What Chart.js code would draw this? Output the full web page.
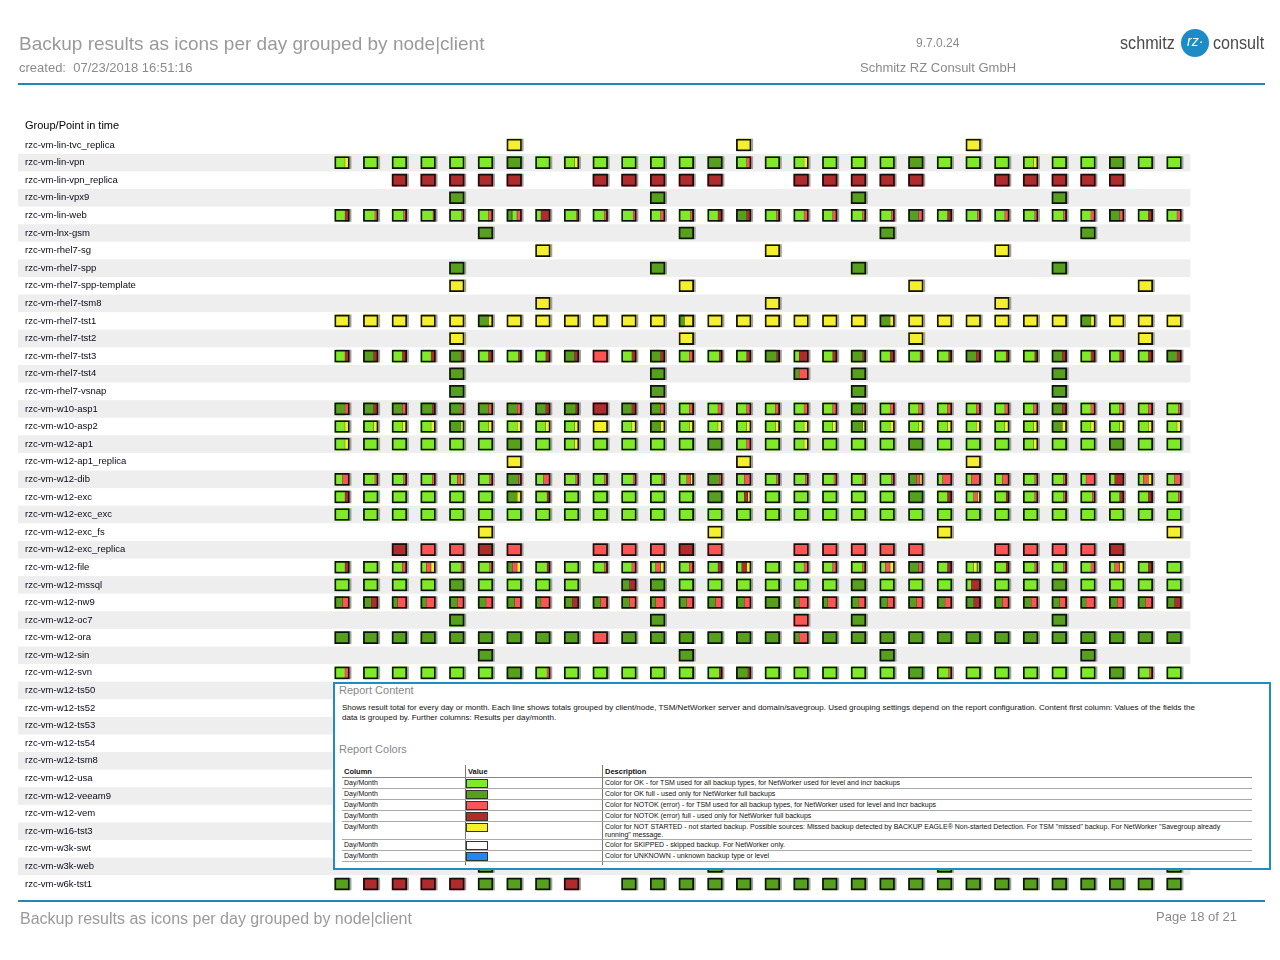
<!DOCTYPE html>
<html>
<head>
<meta charset="utf-8">
<script src="https://cdn.jsdelivr.net/npm/chart.js@4.4.1/dist/chart.umd.min.js"></script>
<style>
body { margin: 0; background: #fff; font-family: "Liberation Sans", Arial, sans-serif; }
#page { position: relative; width: 1280px; height: 960px; overflow: hidden; }
#chart { position: absolute; left: 0; top: 0; }
.t { position: absolute; white-space: nowrap; }
.rule { position: absolute; left: 18px; width: 1247px; height: 2px; background: #1f88b9; }
#box { position: absolute; left: 333px; top: 682px; width: 934px; height: 184px; border: 2px solid #1f8dc3; background: #fff; }
#box .t { font-size: 7px; color: #111; }
.vline { position: absolute; top: 81px; height: 100px; width: 1px; background: #777; }
.hline { position: absolute; left: 7px; width: 910px; height: 1px; background: #aaa; }
.sw { position: absolute; left: 131px; width: 20px; height: 7px; border: 1px solid #333; }
</style>
</head>
<body>
<div id="page">
  <canvas id="chart" width="1280" height="960"></canvas>

  <div class="t" style="left:19px;top:33px;font-size:19px;color:#9a9a9a">Backup results as icons per day grouped by node|client</div>
  <div class="t" style="left:19px;top:60px;font-size:13px;color:#8a8a8a">created:&nbsp; 07/23/2018 16:51:16</div>
  <div class="t" style="left:916px;top:36px;font-size:12px;color:#8a8a8a">9.7.0.24</div>
  <div class="t" style="left:860px;top:60px;font-size:13px;color:#8a8a8a">Schmitz RZ Consult GmbH</div>
  <div class="t" style="left:1120px;top:32px;font-size:19px;color:#4a4a4a;transform:scaleX(0.85);transform-origin:left">schmitz</div>
  <div style="position:absolute;left:1181px;top:29px;width:28px;height:28px;border-radius:50%;background:#1e8cc4"></div>
  <div class="t" style="left:1187px;top:33px;font-size:14px;font-style:italic;color:#fff">rz·</div>
  <div class="t" style="left:1213px;top:32px;font-size:19px;color:#4a4a4a;transform:scaleX(0.85);transform-origin:left">consult</div>
  <div class="rule" style="top:83px"></div>

  <div class="t" style="left:25px;top:119px;font-size:11px;color:#000">Group/Point in time</div>

  <div id="box">
    <div class="t" style="left:4px;top:0px"><span style="font-size:11px;color:#888">Report Content</span></div>
    <div class="t" style="left:7px;top:19px;line-height:10px;font-size:8px">Shows result total for every day or month. Each line shows totals grouped by client/node, TSM/NetWorker server and domain/savegroup. Used grouping settings depend on the report configuration. Content first column: Values of the fields the<br>data is grouped by. Further columns: Results per day/month.</div>
    <div class="t" style="left:4px;top:59px"><span style="font-size:11px;color:#888">Report Colors</span></div>
    <div class="t" style="left:9px;top:83px;font-weight:bold;font-size:7.5px">Column</div>
    <div class="t" style="left:133px;top:83px;font-weight:bold;font-size:7.5px">Value</div>
    <div class="t" style="left:270px;top:83px;font-weight:bold;font-size:7.5px">Description</div>
    <div class="vline" style="left:130px"></div>
    <div class="vline" style="left:267px"></div>
    <div class="hline" style="top:93px;background:#888"></div>
    <div id="legendRows"></div>
  </div>

  <div class="rule" style="top:900px"></div>
  <div class="t" style="left:20px;top:910px;font-size:16px;color:#9a9a9a">Backup results as icons per day grouped by node|client</div>
  <div class="t" style="right:43px;top:909px;font-size:13px;color:#8a8a8a">Page 18 of 21</div>
</div>

<script>
const days = ['23.', '24.', '25.', '26.', '27.', '28.', '29.', '30.', '01.', '02.', '03.', '04.', '05.', '06.', '07.',
    '08.', '09.', '10.', '11.', '12.', '13.', '14.', '15.', '16.', '17.', '18.', '19.', '20.', '21.', '22.'];

const nodes = [
    'rzc-vm-lin-tvc_replica', 'rzc-vm-lin-vpn', 'rzc-vm-lin-vpn_replica', 'rzc-vm-lin-vpx9', 'rzc-vm-lin-web',
    'rzc-vm-lnx-gsm', 'rzc-vm-rhel7-sg', 'rzc-vm-rhel7-spp', 'rzc-vm-rhel7-spp-template', 'rzc-vm-rhel7-tsm8',
    'rzc-vm-rhel7-tst1', 'rzc-vm-rhel7-tst2', 'rzc-vm-rhel7-tst3', 'rzc-vm-rhel7-tst4', 'rzc-vm-rhel7-vsnap',
    'rzc-vm-w10-asp1', 'rzc-vm-w10-asp2', 'rzc-vm-w12-ap1', 'rzc-vm-w12-ap1_replica', 'rzc-vm-w12-dib',
    'rzc-vm-w12-exc', 'rzc-vm-w12-exc_exc', 'rzc-vm-w12-exc_fs', 'rzc-vm-w12-exc_replica', 'rzc-vm-w12-file',
    'rzc-vm-w12-mssql', 'rzc-vm-w12-nw9', 'rzc-vm-w12-oc7', 'rzc-vm-w12-ora', 'rzc-vm-w12-sin',
    'rzc-vm-w12-svn', 'rzc-vm-w12-ts50', 'rzc-vm-w12-ts52', 'rzc-vm-w12-ts53', 'rzc-vm-w12-ts54',
    'rzc-vm-w12-tsm8', 'rzc-vm-w12-usa', 'rzc-vm-w12-veeam9', 'rzc-vm-w12-vem', 'rzc-vm-w16-tst3',
    'rzc-vm-w3k-swt', 'rzc-vm-w3k-web', 'rzc-vm-w6k-tst1'
];

// one line per node, one token per day; letters split the icon in equal parts
// G = OK, D = OK full, R = NOTOK, M = NOTOK full, Y = not started, . = no backup
const results = [
    '. . . . . . Y . . . . . . . Y . . . . . . . Y . . . . . . .',
    'GGY G G G G G D G GGY G G G G D GGR G GGY G G G D G G G GGY G G D G G',
    '. . M M M M M . . M M M M M . . M M M M M . . M M M M M . .',
    '. . . . D . . . . . . D . . . . . . D . . . . . . D . . . .',
    'GGM GGGR GGGR GGGGM GGGGR GGR DGR GMM GGGGR GGGR GGGR GGR GGGR GGM DDM GGGR GGR GGR GGGR GGGR DDR GGM GGGR GGR GGGR GGGR GGR DDR GGM GGR',
    '. . . . . D . . . . . . D . . . . . . D . . . . . . D . . .',
    '. . . . . . . Y . . . . . . . Y . . . . . . . Y . . . . . .',
    '. . . . D . . . . . . D . . . . . . D . . . . . . D . . . .',
    '. . . . Y . . . . . . . Y . . . . . . . Y . . . . . . . Y .',
    '. . . . . . . Y . . . . . . . Y . . . . . . . Y . . . . . .',
    'Y Y Y Y Y DDY Y Y Y Y Y Y DYY Y Y Y Y Y Y DDY Y Y Y Y Y Y DDY Y Y Y',
    '. . . . Y . . . . . . . Y . . . . . . . Y . . . . . . . Y .',
    'GGM DDM GGM GGM DDDM GGM GGGM GGM DDM R GGM DDM GGR GGGM GGM DDDM GMM GGM DDDM GGM GGGM GGGM DDM GGGM GGGM DDM GGM GGM GGM DDM',
    '. . . . D . . . . . . D . . . . DRR . D . . . . . . D . . . .',
    '. . . . D . . . . . . D . . . . . . D . . . . . . D . . . .',
    'DDR DDM DDR DDDM DDDR DDR DDR DDM DDDM M DDM DDR GGR GGR GGR GGR GGR GGR DDDR GGR GGR GGR GGR GGR GGR DDM GGR GGR GGR GGGR',
    'GGY GGY GGY GGY DDDY GGY GGY GGY GGY Y GGY DDY GGY GGY GGY GGY GGY GGY DDDY GGY GGY GGY GGY GGY GGY DDY GGY GGY GGY GGY',
    'GGY G G G G G D G GGY G G G G D GGR G GGY G G G D G G G GGY G G D G G',
    '. . . . . . Y . . . . . . . Y . . . . . . . Y . . . . . . .',
    'GR GGGR GGGR GGGR GGRY GGGR DDDR GR GGGR GGGR GGGR GGGR GGRY DDDR GR GGGR GGGR GGGR GGGR GGGR DDRY GRR GRR GR GGGR GGGR GRR GMM GRY GR',
    'GGM G G G G G DDY GGGM G G G G G D GGMY G G G G G D GGM GGRY GGGM GGGR GGGR GGGR GGM GGM GGGR',
    'G G G G G G G G G G G G G G G G G G G G G G G G G G G G G G',
    '. . . . . Y . . . . . . . Y . . . . . . . Y . . . . . . . Y',
    '. . M R R M R . . R R R M R . . R R R R R . . R R R R M . .',
    'GGM G GGR GRY GGGR GGGR DRY GGGM G GGGR GGR GRY GGR GGM GMY G GGR GGR GGGR GRY DDR GGM GGYG GGGM GGGR GGGR GGR GRY GGM G',
    'G G G G D G G G G . DM D G G G G G G D G G G GMM G G D G G G G',
    'DR DM DRR DRR DR DR DR DRR DM DR DR DRR DR DR DR D DRR DRR DR DR DR DR DM DR DR DR DRR DR DR DM',
    '. . . . D . . . . . . D . . . . R . D . . . . . . D . . . .',
    'D D D D D D D D D R D D D D D D DRR D D D D D D D D D D D D D',
    '. . . . . D . . . . . . D . . . . . . D . . . . . . D . . .',
    'GGR G G G G G D GGGR G G G G G GGGM DDDM G G G G G D GGGR G G G G G D GGGR G',
    '', '', '', '', '', '', '', '', '', '',
    '. . . . . D . . . . . . . D . . . . . . . D . . . . . . . D',
    'D M M M M D D D M . D D D D D D D D D D D D D D D D D D D D'
];

const colors = { G: '#80ea28', D: '#56a01d', R: '#ff5454', M: '#b02b2b', Y: '#f5ef2c' };
const labels = { G: 'OK', D: 'OK full', R: 'NOTOK', M: 'NOTOK full', Y: 'not started' };

const legendColors = ['#80ea28', '#56a01d', '#ff5454', '#b02b2b', '#f5ef2c', '#ffffff', '#1e88f0'];
const legendTexts = [
    'Color for OK - for TSM used for all backup types, for NetWorker used for level and incr backups',
    'Color for OK full - used only for NetWorker full backups',
    'Color for NOTOK (error) - for TSM used for all backup types, for NetWorker used for level and incr backups',
    'Color for NOTOK (error) full - used only for NetWorker full backups',
    'Color for NOT STARTED - not started backup. Possible sources: Missed backup detected by BACKUP EAGLE\u00ae Non-started Detection. For TSM "missed" backup. For NetWorker "Savegroup already<br>running" message.',
    'Color for SKIPPED - skipped backup. For NetWorker only.',
    'Color for UNKNOWN - unknown backup type or level'
];
const legendTops = [94, 105, 116, 127, 138, 156, 167];

const halfW = 0.256;

function buildDatasets() {
    const seg = { G: [], D: [], R: [], M: [], Y: [] };
    const frames = [];
    const shadows = [];
    results.forEach((line, r) => {
        if (!line) return;
        line.split(' ').forEach((cell, c) => {
            if (cell === '.') return;
            const unit = 2 * halfW / cell.length;
            let i = 0;
            while (i < cell.length) {
                let j = i;
                while (j < cell.length && cell[j] === cell[i]) j++;
                seg[cell[i]].push({ y: nodes[r], x: [c - halfW + i * unit, c - halfW + j * unit], first: i === 0 });
                i = j;
            }
            frames.push({ y: nodes[r], x: [c - halfW, c + halfW] });
            shadows.push({ y: nodes[r], x: [c - halfW + 0.06, c + halfW + 0.06] });
        });
    });

    const sets = Object.keys(seg).map(k => ({
        label: labels[k],
        data: seg[k],
        backgroundColor: colors[k],
        borderColor: '#333',
        borderWidth: ctx => (ctx.raw && !ctx.raw.first ? { left: 1 } : 0),
        order: 1
    }));
    sets.push({ label: 'frame', data: frames, backgroundColor: 'rgba(0,0,0,0)', borderColor: '#111', borderWidth: 1.1, order: 0 });
    sets.push({ label: 'shadow', data: shadows, backgroundColor: '#a0a0a0', borderWidth: 0, order: 2 });
    return sets;
}

const stripes = {
    id: 'stripes',
    beforeDraw(chart) {
        const { ctx, chartArea, scales: { y } } = chart;
        const h = y.getPixelForValue(1) - y.getPixelForValue(0);
        ctx.save();
        ctx.fillStyle = '#eeeeee';
        nodes.forEach((n, i) => {
            if (i % 2 === 0) return;
            const cy = y.getPixelForValue(i);
            ctx.fillRect(18, cy - h / 2, chartArea.right + 2 - 18, h);
        });
        ctx.restore();
    }
};

new Chart(document.getElementById('chart'), {
    type: 'bar',
    data: { labels: nodes, datasets: buildDatasets() },
    options: {
        responsive: false,
        animation: false,
        indexAxis: 'y',
        grouped: false,
        barThickness: 12,
        borderSkipped: false,
        layout: { padding: { left: 25, top: 116.2, right: 91.6, bottom: 67.2 } },
        plugins: { legend: { display: false }, tooltip: { enabled: false } },
        scales: {
            x: {
                type: 'linear',
                position: 'top',
                min: -0.5,
                max: 29.5,
                grid: { display: false, drawTicks: false },
                border: { display: false },
                ticks: {
                    stepSize: 1,
                    includeBounds: false,
                    autoSkip: false,
                    maxRotation: 0,
                    padding: 4,
                    color: '#000',
                    font: { family: '"Liberation Sans", Arial, sans-serif', size: 11 },
                    callback: v => (Number.isInteger(v) ? days[v] : '')
                },
                afterFit: s => { s.height = 20; }
            },
            y: {
                type: 'category',
                offset: true,
                grid: { display: false, drawTicks: false },
                border: { display: false },
                ticks: {
                    autoSkip: false,
                    crossAlign: 'far',
                    padding: 0,
                    color: '#0a0a1a',
                    font: { family: '"Liberation Sans", Arial, sans-serif', size: 9.5 }
                },
                afterFit: s => { s.width = 302.7; }
            }
        }
    },
    plugins: [stripes]
});

const legendRows = document.getElementById('legendRows');
legendTexts.forEach((txt, i) => {
    const top = legendTops[i];
    const h = (legendTops[i + 1] || 178) - top;
    legendRows.insertAdjacentHTML('beforeend',
        `<div class="t" style="left:9px;top:${top + 1}px">Day/Month</div>` +
        `<div class="sw" style="top:${top + 1}px;background:${legendColors[i]}"></div>` +
        `<div class="t" style="left:270px;top:${top + 1}px;line-height:8px">${txt}</div>` +
        `<div class="hline" style="top:${top + h - 1}px"></div>`);
});
</script>
</body>
</html>
